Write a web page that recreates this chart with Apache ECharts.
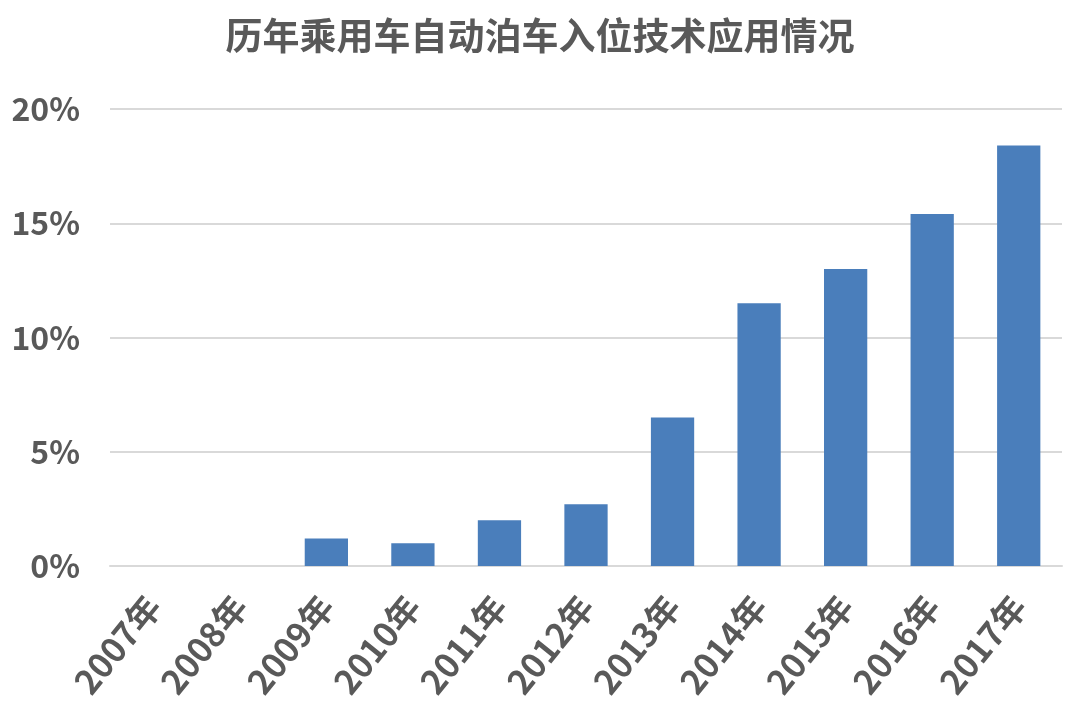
<!DOCTYPE html>
<html>
<head>
<meta charset="utf-8">
<script src="https://cdn.jsdelivr.net/npm/echarts@6/dist/echarts.min.js"></script>
<style>
html,body{margin:0;padding:0;background:#fff;}
#c{width:1080px;height:720px;}
</style>
</head>
<body>
<div id="c"></div>
<script>
const titleText = '历年乘用车自动泊车入位技术应用情况';
const categories = ['2007年','2008年','2009年','2010年','2011年','2012年','2013年','2014年','2015年','2016年','2017年'];
const values = [0, 0, 1.2, 1.0, 2.0, 2.7, 6.5, 11.5, 13.0, 15.4, 18.4];
const yTicks = [0, 5, 10, 15, 20];

const font = '"Noto Sans CJK SC", "Noto Sans", sans-serif';
const chart = echarts.init(document.getElementById('c'), null, {renderer:'canvas'});
chart.setOption({
  backgroundColor: '#ffffff',
  animation: false,
  title: {
    text: titleText,
    left: 'center',
    top: 12,
    textStyle: {fontFamily: font, fontSize: 37, fontWeight: 'bold', color: '#595959'}
  },
  grid: {left: 110, right: 18, top: 109, bottom: 154},
  xAxis: {
    type: 'category',
    data: categories,
    axisLine: {show: true, lineStyle: {color: '#d9d9d9', width: 2}},
    axisTick: {show: false},
    axisLabel: {
      rotate: 51,
      interval: 0,
      margin: 34,
      fontFamily: font,
      fontSize: 34,
      fontWeight: 'bold',
      color: '#595959'
    }
  },
  yAxis: {
    type: 'value',
    min: yTicks[0],
    max: yTicks[yTicks.length - 1],
    interval: 5,
    axisLine: {show: false},
    axisTick: {show: false},
    splitLine: {lineStyle: {color: '#d9d9d9', width: 2}},
    axisLabel: {
      formatter: '{value}%',
      margin: 30,
      fontFamily: font,
      fontSize: 32,
      fontWeight: 'bold',
      color: '#595959'
    }
  },
  series: [{
    type: 'bar',
    data: values,
    barWidth: '50%',
    itemStyle: {color: '#4a7ebb'}
  }]
});
</script>
</body>
</html>
